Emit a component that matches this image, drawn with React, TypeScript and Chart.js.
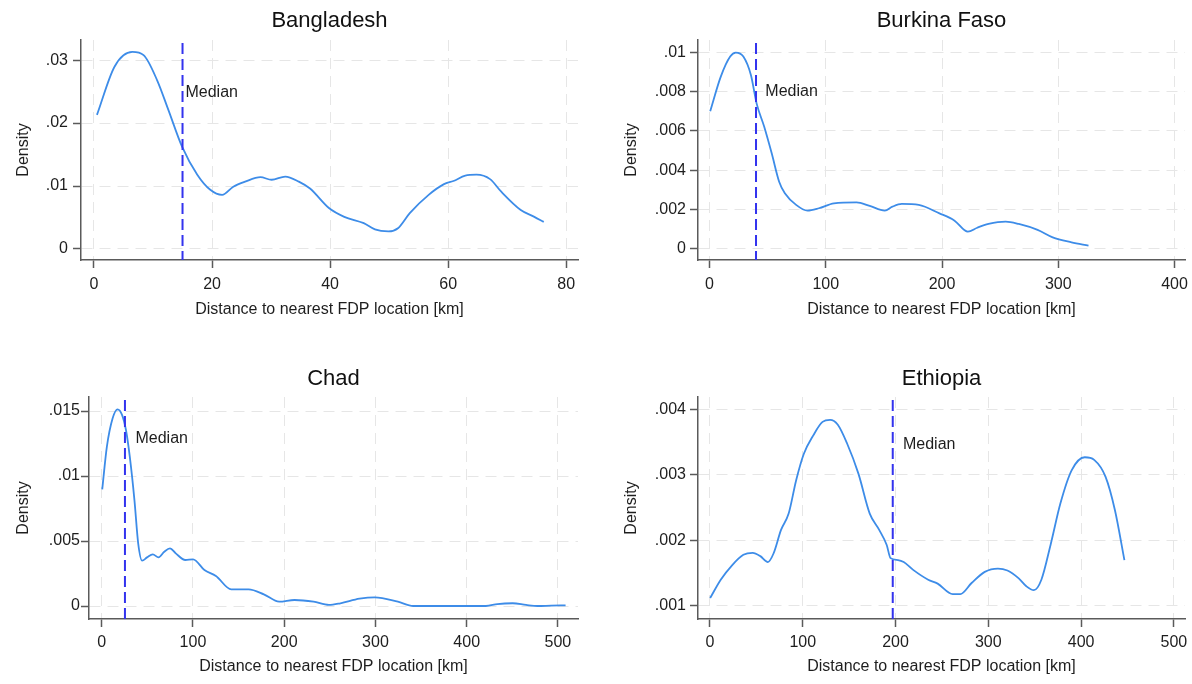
import React, { useEffect, useRef } from 'react';
import { Chart, registerables } from 'chart.js';

Chart.register(...registerables);
Chart.defaults.font.family = 'Arial, "Liberation Sans", sans-serif';

// ---------- data ----------
const panelTitles = ['Bangladesh', 'Burkina Faso', 'Chad', 'Ethiopia'];
const xAxisTitle = 'Distance to nearest FDP location [km]';
const yAxisTitle = 'Density';
const medianText = 'Median';

const bangladeshX = [0.5, 3.5, 6.5, 8.4, 10.7, 12.6, 14.9, 17.5, 19.7, 21.7, 23.6, 25.6, 28.2, 30.1, 32.4, 34.7, 36.6, 39.8, 42.4, 45.7, 47.6, 49.9, 51.5, 53.5, 56.7, 59.3, 60.9, 62.9, 64.8, 67.1, 69.0, 72.3, 74.6, 76.2];
const bangladeshY = [0.0213, 0.0290, 0.0313, 0.0308, 0.0268, 0.0221, 0.0163, 0.0118, 0.0094, 0.0086, 0.0099, 0.0107, 0.0114, 0.0110, 0.0115, 0.0107, 0.0096, 0.0065, 0.0051, 0.0041, 0.0031, 0.0028, 0.0033, 0.0057, 0.0086, 0.0103, 0.0108, 0.01165, 0.0118, 0.0111, 0.0091, 0.0062, 0.0051, 0.0043];

const burkinaX = [0.6, 9.7, 17.8, 22.6, 29.1, 35.6, 40.5, 47.0, 53.5, 59.9, 64.8, 74.5, 84.3, 94.1, 107, 126.5, 137.8, 150.8, 157.3, 165.4, 180, 197.8, 210.8, 222.2, 230.3, 240, 254.7, 266, 282.2, 295.2, 311.4, 326];
const burkinaY = [0.0070, 0.00876, 0.00978, 0.00998, 0.00978, 0.00884, 0.0074, 0.00622, 0.00486, 0.00342, 0.00283, 0.00224, 0.00195, 0.00207, 0.00232, 0.00237, 0.00219, 0.00195, 0.00215, 0.00229, 0.00224, 0.00181, 0.00144, 0.00088, 0.00108, 0.00127, 0.00139, 0.00127, 0.00097, 0.00059, 0.00034, 0.00017];

const chadX = [0.6, 5.7, 12, 17.4, 22.4, 26.6, 30.8, 35.9, 40, 44.3, 49.7, 56, 62.3, 68.6, 74.9, 81.2, 91.7, 100.1, 112.6, 125.2, 142, 161, 177.7, 194.5, 211.3, 232.2, 249, 261.6, 282.6, 299.3, 324.6, 341.4, 370.7, 421, 433.7, 450.4, 465.1, 477.7, 492.4, 508.4];
const chadY = [0.00897, 0.01226, 0.01444, 0.01513, 0.01469, 0.01354, 0.01149, 0.00815, 0.00482, 0.00349, 0.00374, 0.00397, 0.00374, 0.00418, 0.00444, 0.00405, 0.00354, 0.00359, 0.00277, 0.00231, 0.00128, 0.00128, 0.0009, 0.00033, 0.00046, 0.00033, 0.00008, 0.00021, 0.00056, 0.00067, 0.00033, 0.0, 0.0, 0.0, 0.00015, 0.00021, 0.00008, 0.0, 0.00003, 0.00005];

const ethiopiaX = [0.2, 11.6, 23.8, 36, 46.1, 54.3, 62.4, 68.5, 76.6, 84.8, 92.9, 101.1, 111.2, 121.3, 129.5, 137.6, 147.8, 160, 172.2, 182.4, 190.5, 194.6, 202.7, 208.8, 219, 235.2, 245.4, 261.6, 269.8, 282, 296.2, 310.4, 320.6, 332.8, 341, 349.1, 357.2, 367.4, 377.6, 389.8, 404, 414.1, 426.4, 436.5, 446.7];
const ethiopiaY = [0.00112, 0.0014, 0.00162, 0.00178, 0.00181, 0.00176, 0.00167, 0.0018, 0.00216, 0.00241, 0.00292, 0.00332, 0.0036, 0.00381, 0.00384, 0.00377, 0.00348, 0.00302, 0.00241, 0.00216, 0.00193, 0.00173, 0.0017, 0.00167, 0.00155, 0.0014, 0.00134, 0.00118, 0.00118, 0.00135, 0.00152, 0.00157, 0.00154, 0.00142, 0.0013, 0.00124, 0.0014, 0.00195, 0.00256, 0.00307, 0.00327, 0.00323, 0.00297, 0.00246, 0.0017];

const medians = [15, 40, 25.5, 197];
const medianLabelX = [15.5, 48, 37, 208];
const medianLabelY = [0.0249, 0.008, 0.0129, 0.00347];

const bangladeshXTicks = [0, 20, 40, 60, 80];
const burkinaXTicks = [0, 100, 200, 300, 400];
const chadXTicks = [0, 100, 200, 300, 400, 500];
const ethiopiaXTicks = [0, 100, 200, 300, 400, 500];

const bangladeshYTicks = [0, 0.01, 0.02, 0.03];
const bangladeshYLabels = ['0', '.01', '.02', '.03'];
const burkinaYTicks = [0, 0.002, 0.004, 0.006, 0.008, 0.01];
const burkinaYLabels = ['0', '.002', '.004', '.006', '.008', '.01'];
const chadYTicks = [0, 0.005, 0.01, 0.015];
const chadYLabels = ['0', '.005', '.01', '.015'];
const ethiopiaYTicks = [0.001, 0.002, 0.003, 0.004];
const ethiopiaYLabels = ['.001', '.002', '.003', '.004'];

const xRanges = [[-2.2, 82], [-9.9, 409], [-13.9, 522], [-12.9, 512]];
const yRanges = [[-0.00175, 0.0332], [-0.00056, 0.01062], [-0.001, 0.01608], [0.0008, 0.00419]];

// ---------- styles / layout ----------
const W = 596;
const H = 342;
const CURVE = '#3d8ce8';
const MEDIAN_COLOR = '#3333ee';
const AXIS = '#5a5a5a';
const GRID = '#e6e6e6';
const TEXT = '#1e1e1e';

type Layout = {
  left: number; top: number; area: { l: number; t: number; r: number; b: number };
  titleCenter: number; yTitleCenter: number; yTickPad: number; xTickPad: number; xTitleCenter: number;
};

const layouts: Layout[] = [
  { left: 0, top: 0, area: { l: 81, t: 40, r: 578, b: 260 }, titleCenter: 21, yTitleCenter: 24, yTickPad: 5, xTickPad: 7, xTitleCenter: 310 },
  { left: 596, top: 0, area: { l: 102, t: 40, r: 589, b: 260 }, titleCenter: 21, yTitleCenter: 35.5, yTickPad: 4, xTickPad: 7, xTitleCenter: 310 },
  { left: 0, top: 342, area: { l: 89, t: 55, r: 578, b: 277 }, titleCenter: 37, yTitleCenter: 24, yTickPad: 1, xTickPad: 6, xTitleCenter: 324.5 },
  { left: 596, top: 342, area: { l: 102, t: 55, r: 589, b: 277 }, titleCenter: 37, yTitleCenter: 35.5, yTickPad: 4, xTickPad: 6, xTitleCenter: 324.5 },
];

const seriesX = [bangladeshX, burkinaX, chadX, ethiopiaX];
const seriesY = [bangladeshY, burkinaY, chadY, ethiopiaY];
const xTicksAll = [bangladeshXTicks, burkinaXTicks, chadXTicks, ethiopiaXTicks];
const yTicksAll = [bangladeshYTicks, burkinaYTicks, chadYTicks, ethiopiaYTicks];
const yLabelsAll = [bangladeshYLabels, burkinaYLabels, chadYLabels, ethiopiaYLabels];

const medianPlugin = {
  id: 'medianLine',
  afterDatasetsDraw(chart: any, _args: any, opts: any) {
    const { ctx, chartArea, scales } = chart;
    const xs = scales.x;
    const ys = scales.y;
    const px = xs.getPixelForValue(opts.value);
    ctx.save();
    ctx.strokeStyle = MEDIAN_COLOR;
    ctx.lineWidth = 2;
    ctx.setLineDash([11, 5]);
    ctx.beginPath();
    ctx.moveTo(px, chartArea.top + 3);
    ctx.lineTo(px, chartArea.bottom);
    ctx.stroke();
    ctx.setLineDash([]);
    ctx.fillStyle = TEXT;
    ctx.font = '16px Arial, "Liberation Sans", sans-serif';
    ctx.textAlign = 'left';
    ctx.textBaseline = 'middle';
    ctx.fillText(medianText, xs.getPixelForValue(opts.labelX), ys.getPixelForValue(opts.labelY));
    ctx.restore();
  },
};

function Panel({ idx }: { idx: number }) {
  const ref = useRef<HTMLCanvasElement>(null);
  const lay = layouts[idx];
  useEffect(() => {
    const canvas = ref.current;
    if (!canvas) return;
    const xs = seriesX[idx];
    const ysv = seriesY[idx];
    const xTicks = xTicksAll[idx];
    const yTicks = yTicksAll[idx];
    const yLabels = yLabelsAll[idx];
    const titleSize = 22;
    const titleLH = titleSize * 1.2;
    const titleTop = lay.titleCenter - titleLH / 2;
    const titleBottom = lay.area.t - titleTop - titleLH;
    const smallLH = 16 * 1.2;
    const chart = new Chart(canvas, {
      type: 'line',
      data: {
        datasets: [
          {
            data: xs.map((x, i) => ({ x, y: ysv[i] })),
            borderColor: CURVE,
            borderWidth: 1.8,
            pointRadius: 0,
            fill: false,
            cubicInterpolationMode: 'monotone',
          } as any,
        ],
      },
      options: {
        animation: false,
        responsive: false,
        devicePixelRatio: 1,
        layout: { padding: { left: 0, top: 0, right: W - lay.area.r, bottom: 0 } },
        plugins: {
          legend: { display: false },
          tooltip: { enabled: false },
          title: {
            display: true,
            text: panelTitles[idx],
            fullSize: false,
            color: '#111',
            font: { size: titleSize, weight: 'normal' as any, lineHeight: 1.2 },
            padding: { top: titleTop, bottom: titleBottom },
          },
          medianLine: { value: medians[idx], labelX: medianLabelX[idx], labelY: medianLabelY[idx] },
        } as any,
        scales: {
          x: {
            type: 'linear',
            min: xRanges[idx][0],
            max: xRanges[idx][1],
            afterBuildTicks: (s: any) => {
              s.ticks = xTicks.map((v) => ({ value: v }));
            },
            afterFit: (s: any) => {
              s.height = H - lay.area.b;
              s.paddingLeft = 0;
              s.paddingRight = 0;
            },
            ticks: {
              autoSkip: false,
              maxRotation: 0,
              minRotation: 0,
              padding: lay.xTickPad,
              color: TEXT,
              font: { size: 16 },
              callback: (_v: any, i: number) => String(xTicks[i]),
            },
            grid: {
              color: GRID,
              lineWidth: 1,
              tickColor: AXIS,
              tickLength: 8,
              tickWidth: 1.5,
            },
            border: { display: true, color: AXIS, width: 1.5, dash: [11, 7] },
            title: {
              display: true,
              text: xAxisTitle,
              color: TEXT,
              font: { size: 16, lineHeight: 1.2 },
              padding: { top: 0, bottom: H - lay.xTitleCenter - smallLH / 2 },
            },
          },
          y: {
            type: 'linear',
            min: yRanges[idx][0],
            max: yRanges[idx][1],
            afterBuildTicks: (s: any) => {
              s.ticks = yTicks.map((v) => ({ value: v }));
            },
            afterFit: (s: any) => {
              s.width = lay.area.l;
              s.paddingTop = 0;
              s.paddingBottom = 0;
            },
            ticks: {
              autoSkip: false,
              padding: lay.yTickPad,
              color: TEXT,
              font: { size: 16 },
              callback: (_v: any, i: number) => yLabels[i],
            },
            grid: {
              color: GRID,
              lineWidth: 1,
              tickColor: AXIS,
              tickLength: 8,
              tickWidth: 1.5,
            },
            border: { display: true, color: AXIS, width: 1.5, dash: [11, 7] },
            title: {
              display: true,
              text: yAxisTitle,
              color: TEXT,
              font: { size: 16, lineHeight: 1.2 },
              padding: { top: lay.yTitleCenter - smallLH / 2, bottom: 0 },
            },
          },
        },
      } as any,
      plugins: [medianPlugin as any],
    });
    return () => chart.destroy();
  }, [idx]);
  return (
    <canvas
      ref={ref}
      width={W}
      height={H}
      style={{ position: 'absolute', left: lay.left, top: lay.top, width: W, height: H }}
    />
  );
}

export default function App() {
  return (
    <div style={{ position: 'absolute', left: 0, top: 0, width: 1192, height: 684, background: '#fff', overflow: 'hidden' }}>
      {[0, 1, 2, 3].map((i) => (
        <Panel key={i} idx={i} />
      ))}
    </div>
  );
}
